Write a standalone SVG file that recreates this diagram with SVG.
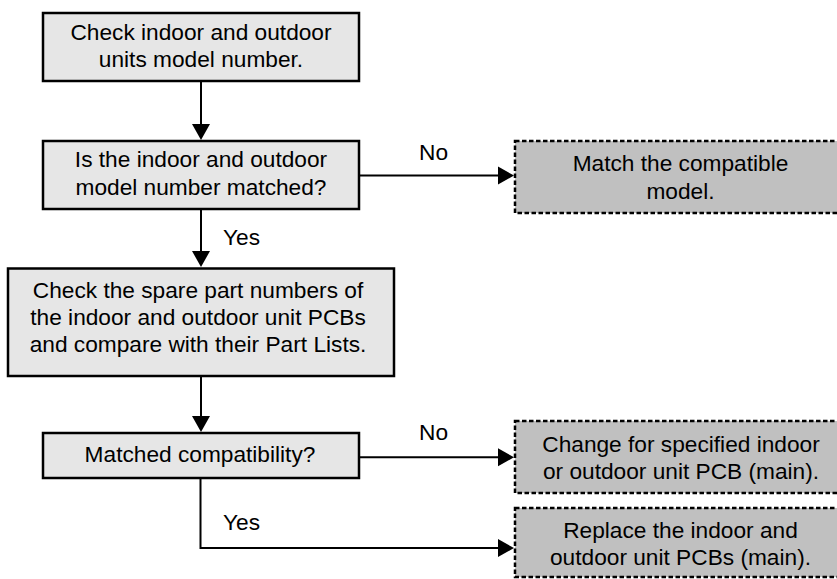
<svg xmlns="http://www.w3.org/2000/svg" width="837" height="579" viewBox="0 0 837 579">
<style>
.box{fill:#e6e6e6;stroke:#000;stroke-width:2.5}
.alt{fill:#c0c0c0;stroke:#000;stroke-width:2.5;stroke-dasharray:4.5 2.5}
.t{font-family:"Liberation Sans",Arial,sans-serif;font-size:22.7px;fill:#000;text-anchor:middle}
.l{font-family:"Liberation Sans",Arial,sans-serif;font-size:22.7px;fill:#000}
.c{fill:none;stroke:#000;stroke-width:2}
</style>
<defs>
<marker id="ah" markerUnits="userSpaceOnUse" markerWidth="16" markerHeight="18" refX="8" refY="9" orient="auto" overflow="visible">
<path d="M0,0 L16,9 L0,18 z" fill="#000"/>
</marker>
</defs>
<rect width="837" height="579" fill="#fff"/>
<g id="connectors">
<path class="c" d="M201,82 V132" marker-end="url(#ah)"/>
<path class="c" d="M201,209 V259" marker-end="url(#ah)"/>
<path class="c" d="M201,377 V424" marker-end="url(#ah)"/>
<path class="c" d="M360,175.5 H506" marker-end="url(#ah)"/>
<path class="c" d="M360,457.3 H506" marker-end="url(#ah)"/>
<path class="c" d="M200.5,478 V548 H506" marker-end="url(#ah)"/>
<text class="l" x="419" y="159.5">No</text>
<text class="l" x="223" y="245">Yes</text>
<text class="l" x="419" y="440">No</text>
<text class="l" x="223" y="530">Yes</text>
</g>
<g id="n1">
<rect class="box" x="43" y="13" width="316" height="68"/>
<text class="t" x="201" y="40">Check indoor and outdoor</text>
<text class="t" x="201" y="67">units model number.</text>
</g>
<g id="n2">
<rect class="box" x="43" y="141" width="316" height="68"/>
<text class="t" x="201" y="167">Is the indoor and outdoor</text>
<text class="t" x="201" y="195">model number matched?</text>
</g>
<g id="n3">
<rect class="box" x="8" y="268.5" width="386" height="107.5"/>
<text class="t" x="198" y="298">Check the spare part numbers of</text>
<text class="t" x="198" y="325">the indoor and outdoor unit PCBs</text>
<text class="t" x="198" y="352">and compare with their Part Lists.</text>
</g>
<g id="n4">
<rect class="box" x="43" y="433" width="316" height="45"/>
<text class="t" x="200" y="462">Matched compatibility?</text>
</g>
<g id="n5">
<rect class="alt" x="515" y="141" width="335" height="72"/>
<text class="t" x="680.5" y="171">Match the compatible</text>
<text class="t" x="680.5" y="198.5">model.</text>
</g>
<g id="n6">
<rect class="alt" x="515" y="421" width="335" height="72"/>
<text class="t" x="681" y="452">Change for specified indoor</text>
<text class="t" x="681" y="479">or outdoor unit PCB (main).</text>
</g>
<g id="n7">
<rect class="alt" x="515" y="508" width="335" height="69"/>
<text class="t" x="680.5" y="538">Replace the indoor and</text>
<text class="t" x="680.5" y="565">outdoor unit PCBs (main).</text>
</g>
</svg>
